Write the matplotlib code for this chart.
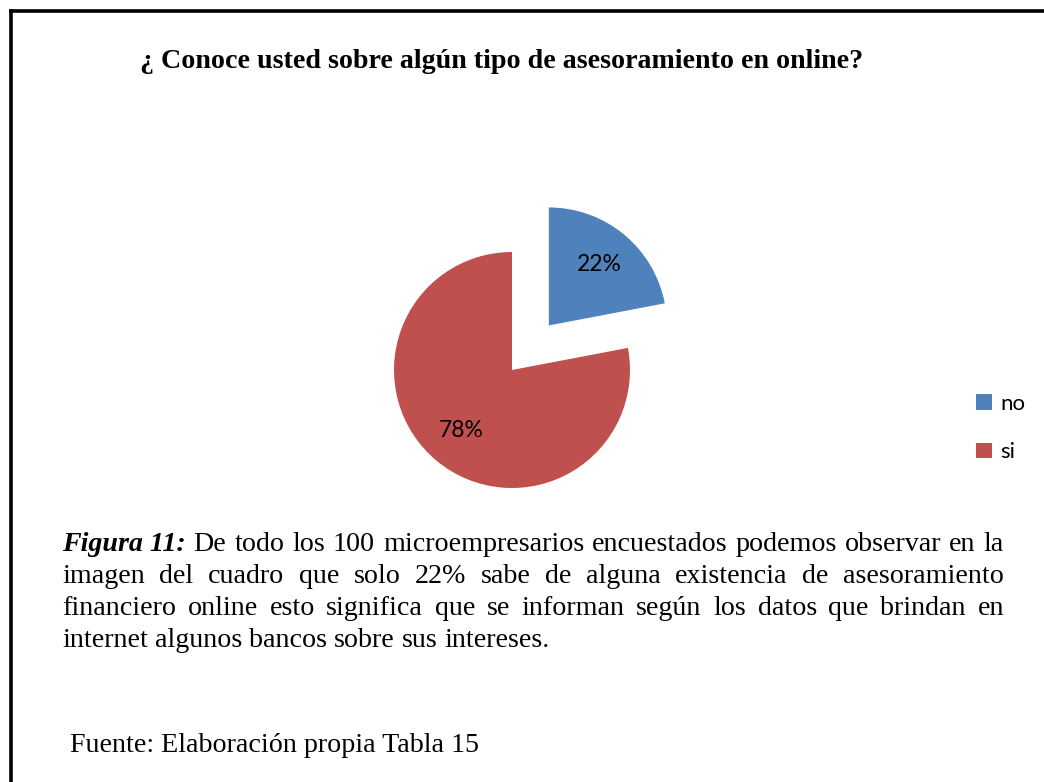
import matplotlib
matplotlib.use("Agg")
import matplotlib.pyplot as plt
from matplotlib.lines import Line2D
from matplotlib.patches import Patch

# ---- data ----
categories = ["no", "si"]
values = [22, 78]
colors = ["#4F81BD", "#C0504D"]
title = "¿ Conoce usted sobre algún tipo de asesoramiento en online?"
caption_lines = [
    ["De", "todo", "los", "100", "microempresarios", "encuestados", "podemos", "observar", "en", "la"],
    ["imagen", "del", "cuadro", "que", "solo", "22%", "sabe", "de", "alguna", "existencia", "de", "asesoramiento"],
    ["financiero", "online", "esto", "significa", "que", "se", "informan", "según", "los", "datos", "que", "brindan", "en"],
    ["internet", "algunos", "bancos", "sobre", "sus", "intereses."],
]
caption_lead = "Figura 11:"
source = "Fuente: Elaboración propia Tabla 15"

W, H = 1044, 782
fig = plt.figure(figsize=(W / 100, H / 100), dpi=100)
fig.patch.set_facecolor("white")

def fx(x):
    return x / W

def fy(y):
    return 1 - y / H

# border (top and left)
fig.add_artist(Line2D([fx(11), fx(W + 5)], [fy(10.5), fy(10.5)], color="black", lw=2.6,
                      transform=fig.transFigure))
fig.add_artist(Line2D([fx(11), fx(11)], [fy(10.5), fy(H + 5)], color="black", lw=2.6,
                      transform=fig.transFigure))

serif = "Liberation Serif"
sans = "Lato"

fig.text(fx(140), fy(58), title, fontsize=20.2, fontweight="bold", family=serif,
         ha="left", va="center_baseline")

# pie
r_px = 118.0
a = 1.6
side = 2 * a * r_px
cx, cy = 512, 370
ax = fig.add_axes([fx(cx - side / 2), fy(cy + side / 2), side / W, side / H])
ax.pie(values, colors=colors, startangle=90, counterclock=False, explode=[0.49, 0],
       autopct="%1.0f%%", pctdistance=0.67,
       textprops=dict(fontsize=16.5, family=sans, color="black"),
       wedgeprops=dict(linewidth=0))
ax.set_xlim(-a, a)
ax.set_ylim(-a, a)
ax.set_aspect("equal")
ax.axis("off")

# legend
handles = [Patch(facecolor=c, edgecolor="none", label=l) for c, l in zip(colors, categories)]
fig.legend(handles=handles, loc="center left", bbox_to_anchor=(fx(956), fy(428)),
           frameon=False, prop=dict(family=sans, size=16), handlelength=0.7,
           handleheight=0.7, handletextpad=0.4, labelspacing=1.3)

# caption (justified)
fig.canvas.draw()
renderer = fig.canvas.get_renderer()
left, right = 62, 1004
baselines = [551, 583, 615, 647]
cap_size = 20.2

def width_of(s, **kw):
    t = fig.text(0, 0, s, **kw)
    bb = t.get_window_extent(renderer)
    t.remove()
    return bb.width

reg = dict(fontsize=cap_size, family=serif)
lead_kw = dict(fontsize=cap_size, family=serif, fontweight="bold", fontstyle="italic")

for i, words in enumerate(caption_lines):
    items = []
    if i == 0:
        items.append((caption_lead, lead_kw))
    items += [(w, reg) for w in words]
    widths = [width_of(s, **kw) for s, kw in items]
    total = sum(widths)
    if i < len(caption_lines) - 1:
        gap = (right - left - total) / (len(items) - 1)
    else:
        gap = width_of("a b", **reg) - width_of("ab", **reg)
    x = left
    for (s, kw), w in zip(items, widths):
        fig.text(fx(x), fy(baselines[i]), s, ha="left", va="baseline", **kw)
        x += w + gap

fig.text(fx(70), fy(752), source, ha="left", va="baseline", **reg)

fig.savefig("out.png", dpi=100, facecolor="white")
